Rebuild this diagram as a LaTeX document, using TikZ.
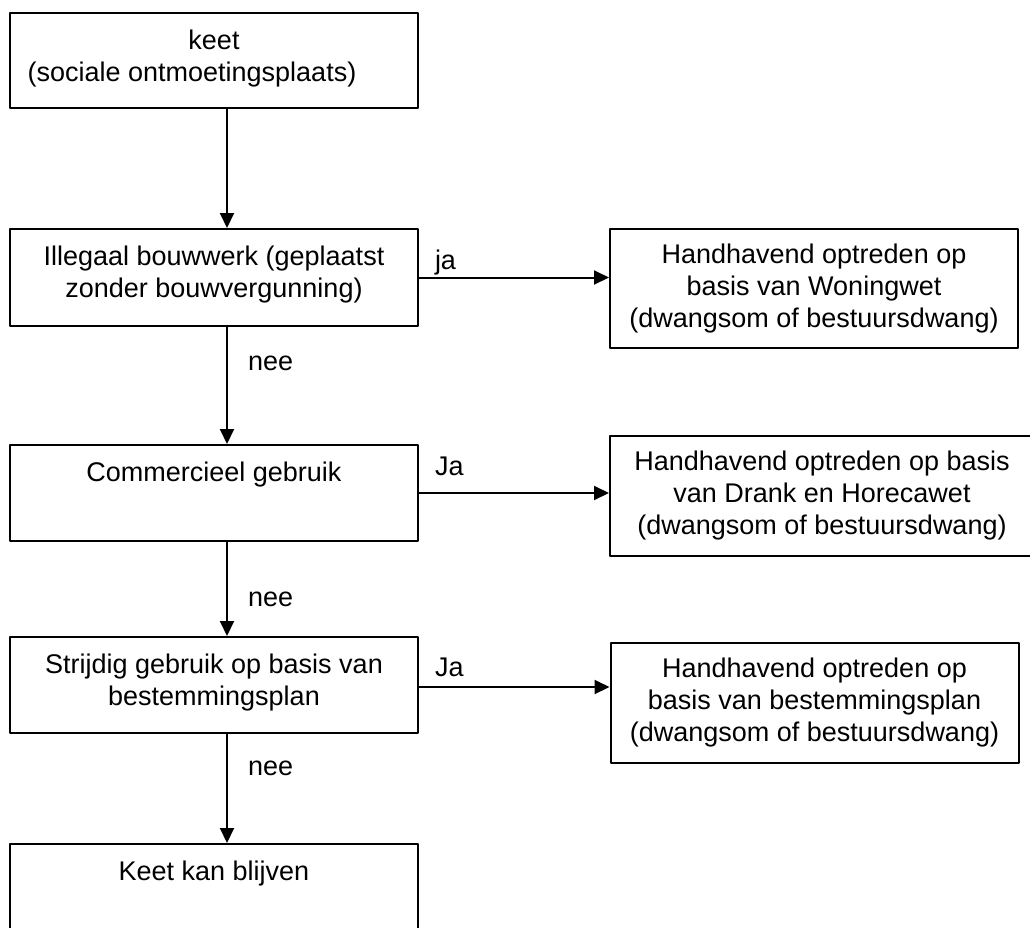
\documentclass[tikz,border=0pt]{standalone}
\usepackage{fontspec}
\setmainfont{Liberation Sans}
\usetikzlibrary{arrows.meta,positioning}

\begin{document}
\begin{tikzpicture}[x=0.5pt, y=-0.5pt, line width=1pt, line join=round, >={Triangle[length=7.5pt,width=7pt]},
	font=\fontsize{13.5}{16}\selectfont,
	box/.style={draw, rectangle, inner sep=0pt, minimum width=204pt, align=center},
	boxtext/.style={align=center, inner sep=0pt},
	lbl/.style={inner sep=0pt}]

			\useasboundingbox (0,0) rectangle (1030,928);

			\node[box, minimum height=47.5pt] (keet) at (214,60.5) {};

			\node[boxtext, below=8.5pt of keet.north] (keettxt) {keet\\(sociale ontmoetingsplaats)\hspace*{22pt}};

			\node[box, minimum height=48.5pt] (illegaal) at (214,277.5) {};

			\node[boxtext, below=8.5pt of illegaal.north] (illegaaltxt) {Illegaal bouwwerk (geplaatst\\zonder bouwvergunning)};

			\node[box, minimum height=48pt] (commercieel) at (214,493) {};

			\node[boxtext, below=8.5pt of commercieel.north] (commercieeltxt) {Commercieel gebruik};

			\node[box, minimum height=48pt] (strijdig) at (214,685) {};

			\node[boxtext, below=8.5pt of strijdig.north] (strijdigtxt) {Strijdig gebruik op basis van\\bestemmingsplan};

			\node[box, minimum height=48pt] (blijven) at (214,892) {};

			\node[boxtext, below=8.5pt of blijven.north] (blijventxt) {Keet kan blijven};

			\node[box, minimum height=59.5pt] (woningwet) at (814,288.5) {Handhavend optreden op\\basis van Woningwet\\(dwangsom of bestuursdwang)};

			\node[box, minimum width=212pt, minimum height=60pt] (horecawet) at (822,496) {Handhavend optreden op basis\\van Drank en Horecawet\\(dwangsom of bestuursdwang)};

			\node[box, minimum height=60pt] (handhaven) at (814.5,703) {Handhavend optreden op\\basis van bestemmingsplan\\(dwangsom of bestuursdwang)};

			\draw[->] ([xshift=6.5pt]keet.south) -- ([xshift=6.5pt]illegaal.north);

			\draw[->] ([xshift=6.5pt]illegaal.south) -- ([xshift=6.5pt]commercieel.north) node[lbl, pos=0.37, anchor=base west, xshift=10pt] {nee};

			\draw[->] ([xshift=6.5pt]commercieel.south) -- ([xshift=6.5pt]strijdig.north) node[lbl, pos=0.69, anchor=base west, xshift=10pt] {nee};

			\draw[->] ([xshift=6.5pt]strijdig.south) -- ([xshift=6.5pt]blijven.north) node[lbl, pos=0.38, anchor=base west, xshift=10pt] {nee};

			\draw[->] (illegaal.east) -- (illegaal.east -| woningwet.west) node[lbl, pos=0, anchor=base west, xshift=7.5pt, yshift=4pt] {ja};

			\draw[->] (commercieel.east) -- (commercieel.east -| horecawet.west) node[lbl, pos=0, anchor=base west, xshift=7.5pt, yshift=9pt] {Ja};

			\draw[->] ([yshift=-1pt]strijdig.east) -- ([yshift=-1pt]strijdig.east -| handhaven.west) node[lbl, pos=0, anchor=base west, xshift=7.5pt, yshift=5.5pt] {Ja};

	\end{tikzpicture}
\end{document}
